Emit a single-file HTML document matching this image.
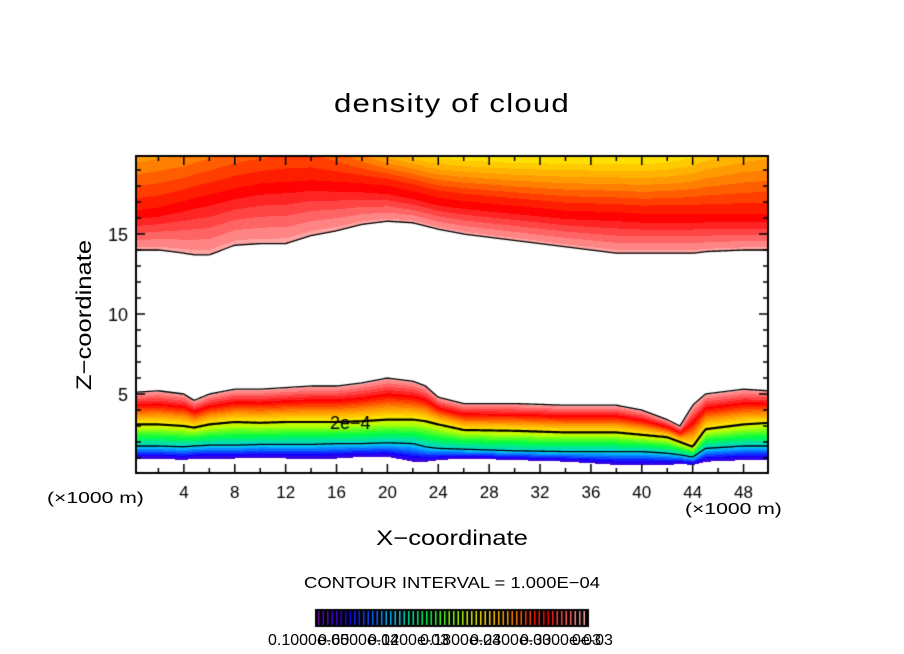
<!DOCTYPE html>
<html><head><meta charset="utf-8">
<style>
html,body{margin:0;padding:0;background:#fff;}
#wrap{position:relative;width:904px;height:654px;overflow:hidden;font-family:"Liberation Sans",sans-serif;color:#000;}
.t{position:absolute;white-space:nowrap;}
</style></head>
<body>
<div id="wrap">
<div class="t" style="left:0;width:904px;text-align:center;top:88px;font-size:26px;letter-spacing:1px;transform:scaleX(1.2);">density of cloud</div>
<div class="t" style="left:85px;top:315px;font-size:21px;transform:translate(-50%,-50%) rotate(-90deg) scaleX(1.22);">Z−coordinate</div>
<div class="t" style="left:0;width:904px;text-align:center;top:527px;font-size:21px;transform:scaleX(1.22);">X−coordinate</div>
<div class="t" style="left:47px;top:490px;font-size:16px;transform:scaleX(1.32);transform-origin:left center;">(×1000 m)</div>
<div class="t" style="left:685px;top:501px;font-size:16px;transform:scaleX(1.32);transform-origin:left center;">(×1000 m)</div>
<div class="t" style="left:0;width:904px;text-align:center;top:575px;font-size:16px;transform:scaleX(1.15);">CONTOUR INTERVAL = 1.000E−04</div>
<canvas id="cv" width="904" height="654" style="position:absolute;left:0;top:0;"></canvas>
<div class="t" style="left:268px;top:632px;font-size:16px;">0.1000e-05</div>
<div class="t" style="left:318px;top:632px;font-size:16px;">0.6000e-04</div>
<div class="t" style="left:368px;top:632px;font-size:16px;">0.1200e-03</div>
<div class="t" style="left:420px;top:632px;font-size:16px;">0.1800e-03</div>
<div class="t" style="left:470px;top:632px;font-size:16px;">0.2400e-03</div>
<div class="t" style="left:520px;top:632px;font-size:16px;">0.3000e-03</div>
<div class="t" style="left:572px;top:632px;font-size:16px;">0e-03</div>
</div>
<script>
// profile knots (x in km)
const xs        = [0,   2,   4,   4.8, 6,   8,   10,  12,  14,  16,  18,  20,  22,  23,  24,  26,  30,  34,  38,  40,  42,  43,  44,  45,  48,  50];
const lowTop    = [5.1, 5.2, 5.0, 4.6, 5.0, 5.3, 5.3, 5.4, 5.5, 5.5, 5.7, 6.0, 5.8, 5.5, 4.8, 4.4, 4.4, 4.3, 4.3, 4.0, 3.4, 3.0, 4.3, 5.0, 5.3, 5.2];
const c2e4      = [3.1, 3.1, 3.0, 2.9, 3.1, 3.25,3.2, 3.25,3.25,3.25,3.3, 3.4, 3.4, 3.3, 3.1, 2.75,2.7, 2.6, 2.6, 2.45,2.3, 2.0, 1.7, 2.8, 3.1, 3.2];
const cLow      = [1.75,1.75,1.7, 1.75,1.8, 1.8, 1.85,1.85,1.85,1.9, 1.9, 1.95,1.9, 1.7, 1.6, 1.55,1.45,1.4, 1.4, 1.4, 1.3, 1.2, 1.05,1.6, 1.75,1.75];
const lowBot    = [1.0, 1.0, 0.9, 1.0, 1.0, 1.0, 1.05,1.0, 1.0, 1.0, 1.1, 1.1, 0.8, 0.8, 0.9, 1.0, 0.9, 0.8, 0.6, 0.6, 0.6, 0.65,0.6, 0.8, 0.9, 0.9];
const upBot     = [14.0,14.0,13.8,13.7,13.7,14.3,14.4,14.4,14.9,15.2,15.6,15.8,15.7,15.5,15.3,15.0,14.6,14.2,13.8,13.8,13.8,13.8,13.8,13.9,14.0,14.0];
const upRed     = [16.2,16.4,16.8,17.0,17.2,17.6,17.9,18.0,18.1,18.0,17.9,17.75,17.4,17.2,17.0,16.8,16.5,16.2,16.1,16.0,16.0,16.0,16.0,16.0,16.0,16.0];
const upTopT    = [0.70,0.71,0.72,0.73,0.74,0.76,0.77,0.78,0.78,0.76,0.72,0.67,0.64,0.62,0.61,0.60,0.59,0.59,0.59,0.59,0.60,0.61,0.62,0.64,0.67,0.68];
const xTicks = [4,8,12,16,20,24,28,32,36,40,44,48];
const yTicks = [5,10,15];

const L=136,R=768,T=156,B=473;
const X=v=>133+12.72*v, Z=z=>474-16*z;
const iX=px=>(px-133)/12.72, iZ=py=>(474-py)/16;
function interp(arr,v){
  if(v<=xs[0])return arr[0];
  for(let i=1;i<xs.length;i++){ if(v<=xs[i]){const f=(v-xs[i-1])/(xs[i]-xs[i-1]);return arr[i-1]+f*(arr[i]-arr[i-1]);} }
  return arr[arr.length-1];
}
const stops=[[0,[106,13,173]],[0.12,[20,0,255]],[0.28,[0,200,255]],[0.42,[0,255,64]],[0.54,[190,255,0]],[0.62,[255,224,0]],[0.72,[255,144,0]],[0.85,[255,0,0]],[1,[255,165,165]]];
function cmap(t){
  t=Math.round(t*34)/34;
  for(let i=1;i<stops.length;i++){ if(t<=stops[i][0]){const a=stops[i-1],b=stops[i];const f=(t-a[0])/(b[0]-a[0]);return a[1].map((c,k)=>Math.round(c+f*(b[1][k]-c)));} }
  return stops[stops.length-1][1];
}
function pw(z,knots){
  for(let i=1;i<knots.length;i++){ if(z<=knots[i][0]){const a=knots[i-1],b=knots[i];const f=(z-a[0])/Math.max(1e-6,b[0]-a[0]);return a[1]+f*(b[1]-a[1]);} }
  return knots[knots.length-1][1];
}
const cv=document.getElementById('cv'),ctx=cv.getContext('2d');
const img=ctx.createImageData(R-L,B-T);
for(let px=L;px<R;px++){
  const v=iX(px);
  const lt=interp(lowTop,v),l2=interp(c2e4,v),ll=interp(cLow,v),lb=interp(lowBot,v);
  const ub=interp(upBot,v),ur=interp(upRed,v),ut=interp(upTopT,v);
  const lr=l2+0.6*(lt-l2);
  for(let py=T;py<B;py++){
    const z=iZ(py);let t=null;
    if(z>=lb&&z<=lt) t=pw(z,[[lb,0.05],[ll,0.3],[l2,0.58],[lr,0.85],[lt,1]]);
    else if(z>=ub) t=pw(z,[[ub,1],[ur,0.85],[ur+0.5,0.83],[20,ut]]);
    const k=((py-T)*(R-L)+(px-L))*4;
    const c=t===null?[255,255,255]:cmap(t);
    img.data[k]=c[0];img.data[k+1]=c[1];img.data[k+2]=c[2];img.data[k+3]=255;
  }
}
ctx.putImageData(img,L,T);
function line(arr,w){
  ctx.beginPath();ctx.lineWidth=w;ctx.strokeStyle='#000';
  for(let px=L;px<=R;px+=2){const y=Z(interp(arr,iX(px)));px===L?ctx.moveTo(px,y):ctx.lineTo(px,y);}
  ctx.stroke();
}
line(upBot,1.3);line(lowTop,1.3);line(c2e4,2.2);line(cLow,1.3);
ctx.font='18px "Liberation Sans", sans-serif';ctx.fillStyle='#000';
ctx.fillText('2e−4',330,429);
// frame
ctx.lineWidth=2;ctx.strokeStyle='#000';ctx.strokeRect(L,T,R-L,B-T);
ctx.lineWidth=1.5;
for(let v=2;v<50;v+=2){const x=X(v),len=(v%4===0)?9:5;ctx.beginPath();ctx.moveTo(x,B);ctx.lineTo(x,B-len);ctx.moveTo(x,T);ctx.lineTo(x,T+len);ctx.stroke();}
for(let z=1;z<20;z++){const y=Z(z),len=(z%5===0)?9:5;ctx.beginPath();ctx.moveTo(L,y);ctx.lineTo(L+len,y);ctx.moveTo(R,y);ctx.lineTo(R-len,y);ctx.stroke();}
ctx.font='17px "Liberation Sans", sans-serif';ctx.textAlign='center';
xTicks.forEach(v=>ctx.fillText(String(v),X(v),498));
ctx.textAlign='right';ctx.font='18px "Liberation Sans", sans-serif';
yTicks.forEach(z=>ctx.fillText(String(z),128,Z(z)+7));
// colorbar
ctx.fillStyle='#000';ctx.fillRect(315,609,274,18);
for(let i=0;i<60;i++){const c=cmap(i/59);ctx.fillStyle=`rgb(${c[0]},${c[1]},${c[2]})`;ctx.fillRect(318+i*4.5,611,1.5,14);}
</script>
</body></html>
